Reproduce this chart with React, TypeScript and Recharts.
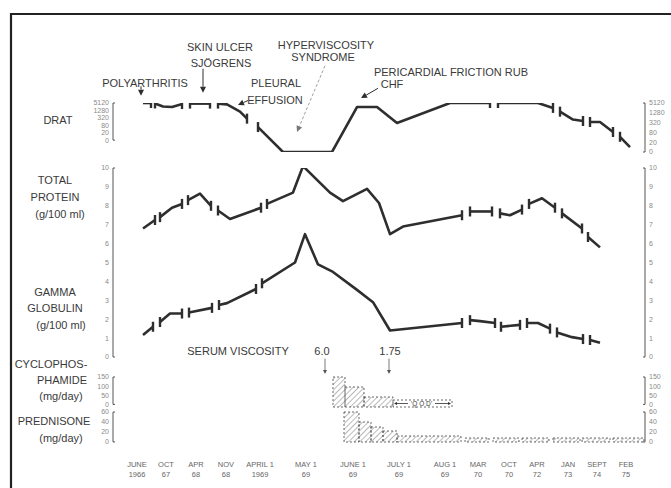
import React from 'react';
import { ComposedChart, Line, XAxis, YAxis, ReferenceArea, ReferenceLine, ReferenceDot } from 'recharts';

const W = 671;
const H = 488;
const XD: [number, number] = [-24, 508];
const FONT = '"Liberation Sans", Arial, Helvetica, sans-serif';
const INK = '#2e2e2e';
const TXT = '#3a3a3a';
const TICK = '#8a8a8a';
const AXC = '#555';

// ---------- broken time axis ----------
const tickPos = [0, 29, 59, 89, 123, 169, 216, 262, 308, 341, 372, 400, 431, 460, 489];
const tickMonths = ['JUNE', 'OCT', 'APR', 'NOV', 'APRIL 1', 'MAY 1', 'JUNE 1', 'JULY 1', 'AUG 1', 'MAR', 'OCT', 'APR', 'JAN', 'SEPT', 'FEB'];
const tickYears = ['1966', '67', '68', '68', '1969', '69', '69', '69', '69', '70', '70', '72', '73', '74', '75'];
const axisSegStart = [-1, 16, 46, 76, 104, 328, 356, 385, 416, 445, 476];
const axisSegEnd = [13, 44, 71, 101, 326, 352, 382, 412, 443, 473, 495];

// ---------- DRAT (titer) ----------
const dratTickTiters = [0, 20, 80, 320, 1280, 5120];
const dratTimes = [
  [6, 14],
  [18, 26, 35, 45],
  [53, 73],
  [81, 90, 103, 110],
  [121, 146, 195, 220, 240, 260, 313, 353],
  [361, 401, 416],
  [423, 436, 446],
  [453, 463, 476],
  [483, 493],
];
const dratTiters = [
  [5120, 5120],
  [4800, 3100, 2900, 4400],
  [4700, 4700],
  [4700, 4200, 1500, 560],
  [170, 0, 0, 2900, 2900, 300, 5120, 5120],
  [5120, 5120, 2560],
  [1500, 490, 400],
  [350, 350, 85],
  [43, 10],
];

// ---------- Total protein / gamma globulin (g/100 ml) ----------
const proteinTicks = [0, 1, 2, 3, 4, 5, 6, 7, 8, 9, 10];
const tpTimes = [
  [6, 18],
  [23, 35, 45],
  [51, 63, 74],
  [81, 93, 124],
  [130, 156, 166, 193, 206, 230, 242, 253, 266, 325],
  [333, 355],
  [363, 373, 385],
  [392, 405, 418],
  [425, 445],
  [451, 463],
];
const tpValues = [
  [6.8, 7.25],
  [7.4, 7.9, 8.1],
  [8.3, 8.65, 8.0],
  [7.75, 7.3, 7.9],
  [8.1, 8.7, 10.1, 8.7, 8.25, 8.9, 8.15, 6.5, 6.9, 7.5],
  [7.7, 7.7],
  [7.6, 7.5, 7.8],
  [8.1, 8.4, 7.9],
  [7.6, 6.8],
  [6.35, 5.8],
];
const ggTimes = [
  [6, 16],
  [23, 33, 45],
  [52, 75],
  [82, 90, 119],
  [125, 158, 168, 181, 196, 220, 236, 253, 325],
  [333, 343, 358],
  [364, 383],
  [390, 401, 413],
  [420, 435, 446],
  [453, 463],
];
const ggValues = [
  [1.16, 1.6],
  [1.85, 2.3, 2.3],
  [2.35, 2.6],
  [2.75, 2.85, 3.6],
  [3.9, 5.0, 6.5, 4.9, 4.5, 3.55, 2.9, 1.4, 1.8],
  [1.95, 1.9, 1.8],
  [1.6, 1.7],
  [1.8, 1.8, 1.5],
  [1.3, 1.05, 0.95],
  [0.9, 0.75],
];

// ---------- Cyclophosphamide (mg/day) ----------
const cycloTicks = [0, 50, 100, 150];
const cycloStart = [196, 208, 227];
const cycloEnd = [208, 227, 256];
const cycloDose = [150, 100, 50];
const qodStart = 256;
const qodEnd = 315;
const qodDose = 35;

// ---------- Prednisone (mg/day) ----------
const predTicks = [0, 20, 40, 60];
const predStart = [207, 222, 234, 246, 260, 328, 356, 385, 416, 445, 476];
const predEnd = [222, 234, 246, 260, 324, 352, 382, 412, 443, 473, 507];
const predDose = [60, 40, 30, 22, 12, 8, 8, 8, 8, 8, 8];

// ---------- Serum viscosity ----------
const svLabels = ['SERUM VISCOSITY', '6.0', '1.75'];
const svT = [101, 185, 253];
const svArrowT = [188, 252];

// ---------- Clinical events (text on DRAT panel) ----------
const noteText = ['POLYARTHRITIS', 'SKIN ULCER', 'SJÖGRENS', 'HYPERVISCOSITY', 'SYNDROME', 'PLEURAL', 'EFFUSION', 'PERICARDIAL  FRICTION  RUB', 'CHF'];
const noteT = [8, 83, 84, 189, 186, 139, 138, 314, 255];
const noteLevel = [7.04, 10.71, 9.08, 10.92, 9.69, 7.04, 5.31, 8.16, 6.94];
const arrowFromT = [4, 66, 188, 111, 241];
const arrowFromLevel = [6.7, 8.5, 8.8, 5.25, 6.5];
const arrowToT = [4, 66, 160, 101, 224];
const arrowToLevel = [5.75, 6.05, 2.05, 4.8, 5.5];

const titerLevel = (t: number) => (t <= 5 ? 0 : Math.log(t / 5) / Math.log(4));

const arrowShape = (color: string, width: number, head: number, dash?: string) => (p: any) => {
  const { x1, y1, x2, y2 } = p;
  const dx = x2 - x1;
  const dy = y2 - y1;
  const len = Math.hypot(dx, dy) || 1;
  const ux = dx / len;
  const uy = dy / len;
  const bx = x2 - ux * head;
  const by = y2 - uy * head;
  const hw = head * 0.5;
  const pts = `${x2},${y2} ${bx - uy * hw},${by + ux * hw} ${bx + uy * hw},${by - ux * hw}`;
  return (
    <g>
      {len > head ? <line x1={x1} y1={y1} x2={bx} y2={by} stroke={color} strokeWidth={width} strokeDasharray={dash} /> : null}
      <polygon points={pts} fill={color} />
    </g>
  );
};

const textShape = (label: string, size: number, color: string) => (p: any) => (
  <text x={p.cx} y={p.cy} dy="0.35em" textAnchor="middle" fontSize={size} fill={color} fontFamily={FONT}>
    {label}
  </text>
);

const segmentLines = (times: number[][], values: number[][], yAxisId: string, key: string, f: (v: number) => number) =>
  times.map((ts, si) => {
    const data = ts.map((t, i) => ({ t, v: f(values[si][i]) }));
    const n = data.length;
    const first = si === 0;
    const last = si === times.length - 1;
    const dot = (p: any) => {
      const { cx, cy, index } = p;
      const show = (index === 0 && !first) || (index === n - 1 && !last);
      if (!show || cx == null || cy == null) return <g key={`${key}-${si}-${index}`} />;
      return <line key={`${key}-${si}-${index}`} x1={cx} x2={cx} y1={cy - 5} y2={cy + 5} stroke={INK} strokeWidth={2.4} />;
    };
    return (
      <Line
        key={`${key}-${si}`}
        data={data}
        dataKey="v"
        yAxisId={yAxisId}
        type="linear"
        stroke={INK}
        strokeWidth={2.6}
        strokeLinejoin="round"
        dot={dot}
        activeDot={false}
        isAnimationActive={false}
      />
    );
  });

const bracket = (yAxisId: string, lo: number, hi: number, side: 'L' | 'R', key: string) => {
  const x = side === 'L' ? XD[0] : XD[1];
  const hx = side === 'L' ? x + 2 : x - 2;
  return [
    <ReferenceLine key={key + 'v'} yAxisId={yAxisId} segment={[{ x, y: lo }, { x, y: hi }]} stroke={AXC} strokeWidth={1} ifOverflow="visible" />,
    <ReferenceLine key={key + 't'} yAxisId={yAxisId} segment={[{ x, y: hi }, { x: hx, y: hi }]} stroke={AXC} strokeWidth={1} ifOverflow="visible" />,
    <ReferenceLine key={key + 'b'} yAxisId={yAxisId} segment={[{ x, y: lo }, { x: hx, y: lo }]} stroke={AXC} strokeWidth={1} ifOverflow="visible" />,
  ];
};

const tickStyle = { fontSize: 7, fill: TICK, fontFamily: FONT };

const HatchDefs = ({ id }: { id: string }) => (
  <defs>
    <pattern id={id} width="4" height="4" patternUnits="userSpaceOnUse" patternTransform="rotate(45)">
      <line x1="0" y1="0" x2="0" y2="4" stroke="#666" strokeWidth="0.9" />
    </pattern>
  </defs>
);

const box = (top: number, height: number): React.CSSProperties => ({ position: 'absolute', left: 0, top, width: W, height });
const margins = (top: number, height: number, plotTop: number, plotBottom: number) => ({
  top: plotTop - top,
  bottom: top + height - plotBottom,
  left: 83,
  right: 0,
});

const xAxisHidden = <XAxis xAxisId={0} type="number" dataKey="t" domain={XD} hide allowDataOverflow />;

const yAxes = (domain: [number, number], ticks: number[], fmt?: (v: number) => string, leftDomain?: [number, number]) => [
  <YAxis key="yl" yAxisId="L" domain={leftDomain ?? domain} ticks={ticks} tickFormatter={fmt} interval={0} width={30} axisLine={false} tickLine={false} tickSize={0} tickMargin={4} tick={tickStyle} allowDataOverflow />,
  <YAxis key="yr" yAxisId="R" orientation="right" domain={domain} ticks={ticks} tickFormatter={fmt} interval={0} width={26} axisLine={false} tickLine={false} tickSize={0} tickMargin={4} tick={tickStyle} allowDataOverflow />,
];

function DratChart() {
  const top = 20, height = 140;
  const fmt = (v: number) => String(dratTickTiters[v]);
  const levels = [0, 1, 2, 3, 4, 5];
  return (
    <div style={box(top, height)}>
      <ComposedChart width={W} height={height} margin={margins(top, height, 103, 152)} data={levels.map((l) => ({ t: tickPos[0], l }))}>
        {xAxisHidden}
        {yAxes([0, 5], levels, fmt, [-1.6, 5])}
        {bracket('L', 0, 5, 'L', 'dl')}
        {bracket('R', 0, 5, 'R', 'dr')}
        {segmentLines(dratTimes, dratTiters, 'R', 'drat', titerLevel)}
        {noteText.map((s, i) => (
          <ReferenceDot key={'n' + i} yAxisId="R" x={noteT[i]} y={noteLevel[i]} r={1} ifOverflow="visible" shape={textShape(s, 11, TXT)} />
        ))}
        {arrowFromT.map((t, i) => (
          <ReferenceLine
            key={'a' + i}
            yAxisId="R"
            segment={[{ x: t, y: arrowFromLevel[i] }, { x: arrowToT[i], y: arrowToLevel[i] }]}
            ifOverflow="visible"
            shape={arrowShape(i === 2 ? '#777' : INK, i === 2 ? 0.7 : 1, 6, i === 2 ? '3 2' : undefined)}
          />
        ))}
      </ComposedChart>
    </div>
  );
}

function ProteinChart() {
  const top = 160, height = 205;
  return (
    <div style={box(top, height)}>
      <ComposedChart width={W} height={height} margin={margins(top, height, 168, 357)} data={proteinTicks.map((v) => ({ t: tickPos[0], v }))}>
        {xAxisHidden}
        {yAxes([0, 10], proteinTicks)}
        {bracket('L', 0, 10, 'L', 'pl')}
        {bracket('R', 0, 10, 'R', 'pr')}
        {segmentLines(tpTimes, tpValues, 'L', 'tp', (v) => v)}
        {segmentLines(ggTimes, ggValues, 'L', 'gg', (v) => v)}
      </ComposedChart>
    </div>
  );
}

function CycloChart() {
  const top = 338, height = 74;
  const data = cycloDose.map((d, i) => ({ t: cycloStart[i], d }));
  const labelDomain: [number, number] = [-14, 150];
  return (
    <div style={box(top, height)}>
      <ComposedChart width={W} height={height} margin={margins(top, height, 377, 407)} data={data}>
        <HatchDefs id="hatchC" />
        {xAxisHidden}
        <YAxis yAxisId="L" domain={labelDomain} ticks={cycloTicks} interval={0} width={30} axisLine={false} tickLine={false} tickSize={0} tickMargin={4} tick={tickStyle} allowDataOverflow />
        <YAxis yAxisId="R" orientation="right" domain={labelDomain} ticks={cycloTicks} interval={0} width={26} axisLine={false} tickLine={false} tickSize={0} tickMargin={4} tick={tickStyle} allowDataOverflow />
        <YAxis yAxisId="D" orientation="right" domain={[0, 150]} hide width={0} allowDataOverflow />
        {bracket('L', 0, 150, 'L', 'cl')}
        {bracket('R', 0, 150, 'R', 'cr')}
        {cycloDose.map((d, i) => (
          <ReferenceArea key={'c' + i} yAxisId="D" x1={cycloStart[i]} x2={cycloEnd[i]} y1={0} y2={d} fill="url(#hatchC)" fillOpacity={1} stroke="#444" strokeWidth={0.8} strokeDasharray="2 2" ifOverflow="visible" />
        ))}
        <ReferenceArea yAxisId="D" x1={qodStart} x2={qodEnd} y1={0} y2={qodDose} fill="none" fillOpacity={0} stroke="#444" strokeWidth={0.8} strokeDasharray="2 2" ifOverflow="visible" />
        <ReferenceDot yAxisId="D" x={(qodStart + qodEnd) / 2 - 1} y={qodDose / 2} r={1} ifOverflow="visible" shape={textShape('‘Q O D’', 6.5, TXT)} />
        <ReferenceLine yAxisId="D" segment={[{ x: qodStart + 15, y: qodDose / 2 }, { x: qodStart + 1, y: qodDose / 2 }]} ifOverflow="visible" shape={arrowShape(INK, 0.8, 3)} />
        <ReferenceLine yAxisId="D" segment={[{ x: qodEnd - 17, y: qodDose / 2 }, { x: qodEnd - 1, y: qodDose / 2 }]} ifOverflow="visible" shape={arrowShape(INK, 0.8, 3)} />
        {svLabels.map((s, i) => (
          <ReferenceDot key={'sv' + i} yAxisId="D" x={svT[i]} y={280} r={1} ifOverflow="visible" shape={textShape(s, 11, TXT)} />
        ))}
        {svArrowT.map((t, i) => (
          <ReferenceLine key={'sva' + i} yAxisId="D" segment={[{ x: t, y: 242 }, { x: t, y: 165 }]} ifOverflow="visible" shape={arrowShape('#555', 0.8, 4)} />
        ))}
      </ComposedChart>
    </div>
  );
}

function PredChart() {
  const top = 405, height = 42;
  const data = predDose.map((d, i) => ({ t: predStart[i], d }));
  return (
    <div style={box(top, height)}>
      <ComposedChart width={W} height={height} margin={margins(top, height, 412, 442)} data={data}>
        <HatchDefs id="hatchP" />
        {xAxisHidden}
        {yAxes([0, 60], predTicks)}
        {bracket('L', 0, 60, 'L', 'ql')}
        {bracket('R', 0, 60, 'R', 'qr')}
        {predDose.map((d, i) => (
          <ReferenceArea key={'p' + i} yAxisId="L" x1={predStart[i]} x2={predEnd[i]} y1={0} y2={d} fill="url(#hatchP)" fillOpacity={1} stroke="#444" strokeWidth={0.8} strokeDasharray="2 2" ifOverflow="visible" />
        ))}
      </ComposedChart>
    </div>
  );
}

function TimeAxisChart() {
  const top = 440, height = 48;
  const tick = (p: any) => {
    const idx = tickPos.indexOf(p.payload.value);
    return (
      <g>
        <text x={p.x} y={p.y + 12} textAnchor="middle" fontSize={7.5} fill="#666" fontFamily={FONT}>{tickMonths[idx]}</text>
        <text x={p.x} y={p.y + 22} textAnchor="middle" fontSize={7.5} fill="#666" fontFamily={FONT}>{tickYears[idx]}</text>
      </g>
    );
  };
  return (
    <div style={box(top, height)}>
      <ComposedChart width={W} height={height} data={tickPos.map((t) => ({ t }))} margin={{ top: 5, bottom: 3, left: 113, right: 26 }}>
        <XAxis xAxisId={0} type="number" dataKey="t" domain={XD} ticks={tickPos} interval={0} axisLine={false} tickLine={false} tickSize={0} tickMargin={0} height={30} tick={tick} allowDataOverflow />
        <YAxis yAxisId="L" domain={[0, 1]} hide />
        {axisSegStart.map((s, i) => (
          <ReferenceLine key={'s' + i} yAxisId="L" segment={[{ x: s, y: 0 }, { x: axisSegEnd[i], y: 0 }]} stroke={INK} strokeWidth={1.6} ifOverflow="visible" />
        ))}
        {axisSegEnd.map((e, i) => (
          <ReferenceLine key={'e' + i} yAxisId="L" segment={[{ x: e - 1.5, y: 0.35 }, { x: e, y: 0 }]} stroke={INK} strokeWidth={1} ifOverflow="visible" />
        ))}
        {axisSegStart.map((s, i) => (
          <ReferenceLine key={'b' + i} yAxisId="L" segment={[{ x: s, y: 0 }, { x: s + 1.5, y: 0.35 }]} stroke={INK} strokeWidth={1} ifOverflow="visible" />
        ))}
      </ComposedChart>
    </div>
  );
}

const titleLines: { text: string; x: number; y: number }[] = [
  { text: 'DRAT', x: 58, y: 120 },
  { text: 'TOTAL', x: 55, y: 180 },
  { text: 'PROTEIN', x: 55, y: 197 },
  { text: '(g/100 ml)', x: 60, y: 214 },
  { text: 'GAMMA', x: 55, y: 292 },
  { text: 'GLOBULIN', x: 55, y: 308 },
  { text: '(g/100 ml)', x: 61, y: 325 },
  { text: 'CYCLOPHOS-', x: 51, y: 364 },
  { text: 'PHAMIDE', x: 62, y: 380 },
  { text: '(mg/day)', x: 61, y: 396 },
  { text: 'PREDNISONE', x: 54, y: 421 },
  { text: '(mg/day)', x: 61, y: 438 },
];

export default function App() {
  return (
    <div style={{ position: 'absolute', left: 0, top: 0, width: W, height: H, background: '#fff', fontFamily: FONT, overflow: 'hidden' }}>
      <svg width={W} height={H} style={{ position: 'absolute', left: 0, top: 0 }}>
        <line x1={10} y1={14} x2={W} y2={14} stroke="#222" strokeWidth={2.2} />
        <line x1={11} y1={13} x2={11} y2={H} stroke="#222" strokeWidth={2.2} />
        {titleLines.map((l, i) => (
          <text key={i} x={l.x} y={l.y} dy="0.35em" textAnchor="middle" fontSize={11} fill={TXT} fontFamily={FONT}>
            {l.text}
          </text>
        ))}
      </svg>
      <DratChart />
      <ProteinChart />
      <CycloChart />
      <PredChart />
      <TimeAxisChart />
    </div>
  );
}
